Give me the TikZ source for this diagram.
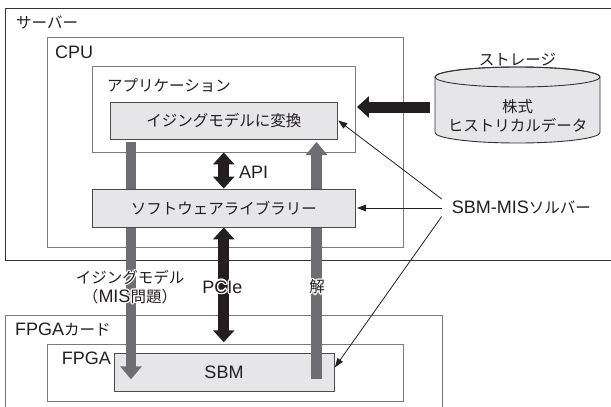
\documentclass[tikz,border=0pt]{standalone}
\usepackage{fontspec}
\setmainfont{Liberation Sans}
\newfontfamily\jpf{Noto Sans CJK JP}
\newfontfamily\latf{Liberation Sans}
\usetikzlibrary{arrows.meta,fit,calc}
\definecolor{txt}{HTML}{231F20}
\definecolor{boxfill}{HTML}{E6E6E8}
\definecolor{grayarrow}{HTML}{6D6D72}
\definecolor{outerline}{HTML}{333333}
\definecolor{midline}{HTML}{7A7A7A}
\definecolor{innerline}{HTML}{4A4A4A}
\newcommand\La[1]{{\latf\fontsize{18}{19}\selectfont #1}}
\newcommand\J[1]{{\jpf\fontsize{15.5}{19}\selectfont #1}}
\newcommand\halonode[3]{%
  \foreach \a in {0,45,...,315}{\node[jp,text=white,align=center] at ($(#2)+(\a:1.3)$) {#3};}
  \node[jp,align=center] (#1) at (#2) {#3};}
\begin{document}
\begin{tikzpicture}[x=1pt,y=-1pt,
  lat/.style={inner sep=0pt,text=txt,font=\latf\fontsize{18}{19}\selectfont},
  jp/.style={inner sep=0pt,text=txt,font=\jpf\fontsize{15.5}{19}\selectfont},
  outerbox/.style={draw=outerline,line width=0.9pt,inner sep=0pt},
  midbox/.style={draw=midline,line width=0.9pt,inner sep=0pt},
  innerbox/.style={draw=innerline,fill=boxfill,line width=0.9pt,inner sep=0pt},
  bigblack/.style={draw=txt,line width=11pt,-{Triangle[width=21pt,length=12pt]}},
  bigblackdbl/.style={draw=txt,line width=11pt,{Triangle[width=21pt,length=12pt]}-{Triangle[width=21pt,length=12pt]}},
  bigray/.style={draw=grayarrow,line width=10.5pt,-{Triangle[width=21pt,length=13pt]}},
  thinarrow/.style={draw=txt,line width=0.8pt,-{Triangle[width=6.5pt,length=9pt]}}
]
\useasboundingbox (0,0) rectangle (611,407);
\clip (0,0) rectangle (611,407);
\fill[white] (0,0) rectangle (611,407);

% containers
\node[outerbox,fit={(5.5,8.5) (620,260)}] (server) {};
\node[midbox,fit={(47.6,37) (403,247.3)}] (cpu) {};
\node[midbox,fit={(92.5,66.7) (355,152)}] (app) {};
\node[midbox,fit={(5.5,315) (442.7,420)}] (card) {};
\node[midbox,fit={(47.6,344) (403,401)}] (fpga) {};
\node[innerbox,fit={(114,353.5) (334,391)}] (sbm) {};
\node[innerbox,fit={(110,102) (337.5,139)}] (conv) {};

% storage cylinder
\node[inner sep=0pt,minimum width=165,minimum height=76] (stor) at (517.5,105) {};
\filldraw[fill=boxfill,draw=outerline,line width=0.9pt]
  (435,77) -- (435,132.5) arc[start angle=180,end angle=0,x radius=82.5,y radius=10.5]
  -- (600,77) arc[start angle=360,end angle=180,x radius=82.5,y radius=10] -- cycle;
\draw[outerline,line width=0.9pt] (517.5,77) ellipse[x radius=82.5,y radius=10];

% labels of containers
\node[jp,anchor=west] (lserver) at (16,23) {サーバー};
\node[lat,anchor=west] (lcpu) at (55,52) {CPU};
\node[jp,anchor=west] (lapp) at (107,85) {アプリケーション};
\node[jp] (lstor) at (517.5,60) {ストレージ};
\node[jp,align=center] (stortxt) at (517.5,116) {株式\\ヒストリカルデータ};
\node[lat,anchor=west] (lcard) at (15,330) {FPGA\J{カード}};
\node[lat,anchor=west] (lfpga) at (61.7,358) {FPGA};

% coordinates for gray arrows
\coordinate (gls) at (131,142);
\coordinate (gle) at (131,379.3);
\coordinate (grs) at (316.5,379);
\coordinate (gre) at (316.5,142);

\draw[bigray] (gls) -- (gle);
\draw[bigray] (grs) -- (gre);

% storage to app
\draw[bigblack] ([xshift=-5pt,yshift=-2pt]stor.west) -- ([xshift=1.5pt]app.east |- 0,107);

% software library box (over gray shafts)
\node[innerbox,fit={(92.5,189) (355,227)}] (soft) {};
\node[jp] at (conv.center) {イジングモデルに変換};
\node[jp] at (soft.center) {ソフトウェアライブラリー};
\node[lat] at (sbm.center) {SBM};

% API and PCIe
\draw[bigblackdbl] (app.south) -- (soft.north);
\node[lat,anchor=west] (lapi) at (239,172) {API};
\draw[bigblackdbl] (soft.south) -- ([yshift=1.3pt]soft.south |- fpga.north);

% solver
\node[lat,anchor=west] (solver) at (451.7,207) {SBM-MIS\J{ソルバー}};
\draw[thinarrow] ($(solver.west)+(-10,-8)$) -- ([xshift=0.3pt]conv.east);
\draw[thinarrow] ($(solver.west)+(-10,1)$) -- ([xshift=1.5pt]soft.east);
\draw[thinarrow] ($(solver.west)+(-10,9.5)$) -- ([xshift=0.5pt,yshift=5pt]sbm.east);

% haloed labels
\halonode{lising}{130,287}{イジングモデル\\（\La{MIS}問題）}
\halonode{lpcie}{222.5,287}{\La{PCIe}}
\halonode{lsol}{317,287}{解}
\end{tikzpicture}
\end{document}
